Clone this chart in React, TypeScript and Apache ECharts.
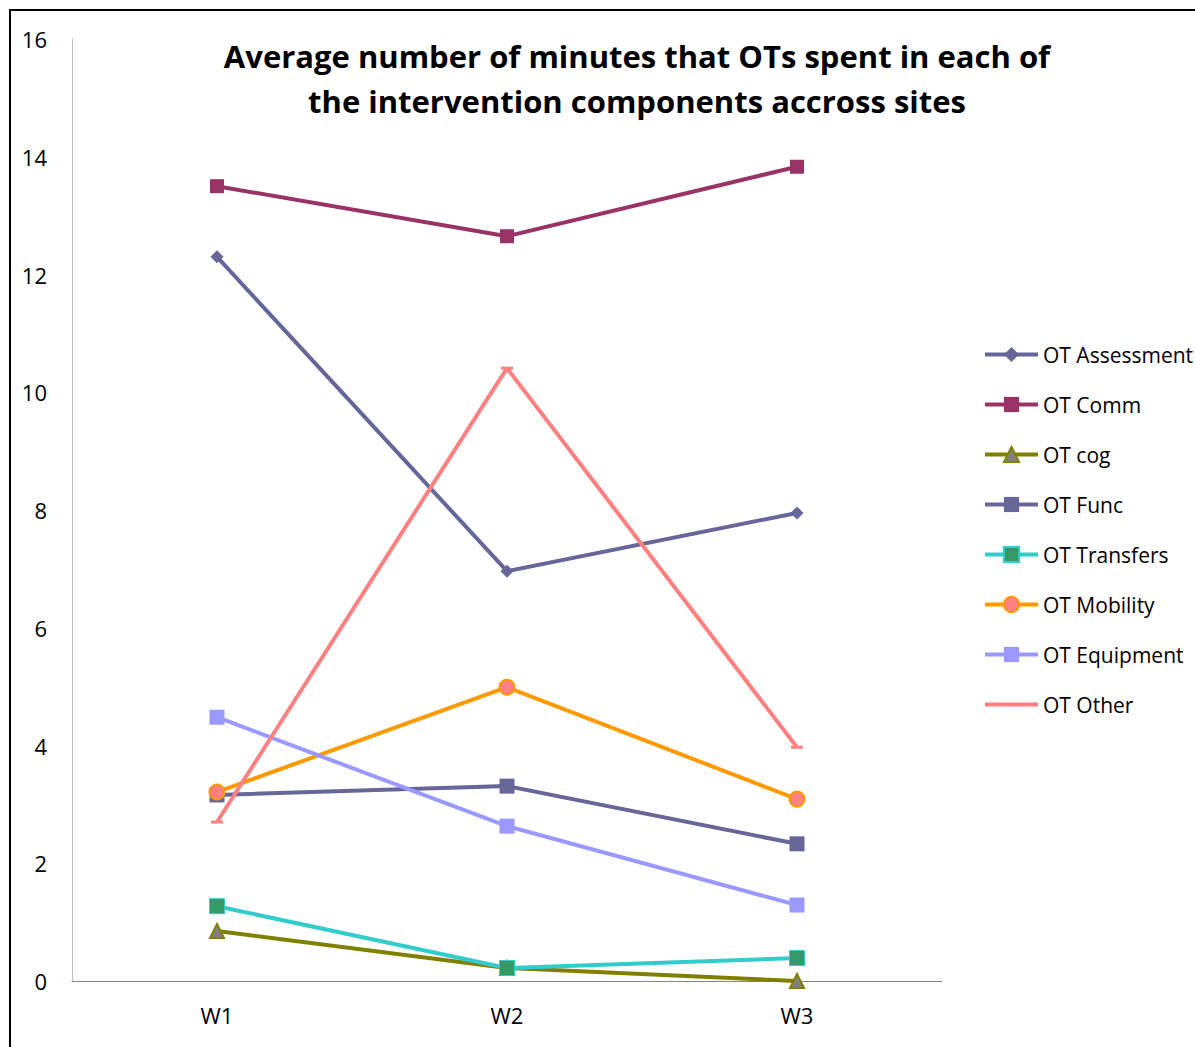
import React, { useEffect, useRef } from "react";
import * as echarts from "echarts";

const categories = ["W1", "W2", "W3"];
const assessment = [12.3, 6.96, 7.95];
const comm = [13.5, 12.65, 13.83];
const cog = [0.85, 0.22, 0];
const func = [3.16, 3.31, 2.33];
const transfers = [1.27, 0.22, 0.39];
const mobility = [3.21, 4.99, 3.09];
const equipment = [4.48, 2.63, 1.29];
const other = [2.7, 10.41, 3.97];
const seriesNames = [
  "OT Assessment",
  "OT Comm",
  "OT cog",
  "OT Func",
  "OT Transfers",
  "OT Mobility",
  "OT Equipment",
  "OT Other",
];
const lineColors = ["#666699", "#993366", "#808000", "#666699", "#33CCCC", "#FF9900", "#9999FF", "#FF8080"];

const FONT = "Open Sans";

export default function App() {
  const ref = useRef<HTMLDivElement>(null);
  useEffect(() => {
    document.body.style.margin = "0";
    const chart = echarts.init(ref.current!, null, { renderer: "svg" });
    const mk = (i: number, data: number[], symbol: string, size: any, item: any) => ({
      name: seriesNames[i],
      type: "line",
      data,
      symbol,
      symbolSize: size,
      showAllSymbol: true,
      lineStyle: { color: lineColors[i], width: 4 },
      itemStyle: item,
      emphasis: { disabled: true },
      z: 2,
    });
    chart.setOption({
      animation: false,
      backgroundColor: "#ffffff",
      title: {
        text: "Average number of minutes that OTs spent in each of\nthe intervention components accross sites",
        left: 632,
        textAlign: "center",
        top: 28,
        textStyle: { fontFamily: FONT, fontWeight: "bold", fontSize: 31, lineHeight: 45, color: "#000" },
      },
      graphic: [
        {
          type: "rect",
          shape: { x: 10, y: 10, width: 1300, height: 1200 },
          style: { fill: "none", stroke: "#000", lineWidth: 2 },
          silent: true,
        },
      ],
      legend: {
        orient: "vertical",
        left: 978,
        top: 339,
        itemWidth: 53,
        itemHeight: 19,
        itemGap: 29,
        lineStyle: { width: 4 },
        textStyle: { fontFamily: FONT, fontSize: 21, lineHeight: 20, color: "#000" },
        data: seriesNames.map((n, i) =>
          n === "OT Other"
            ? { name: n, itemStyle: { opacity: 0 }, lineStyle: { width: 4, color: lineColors[i] } }
            : { name: n, lineStyle: { width: 4, color: lineColors[i] } }
        ),
      },
      grid: { left: 72, right: 253, top: 39, bottom: 66, containLabel: false },
      xAxis: {
        type: "category",
        data: categories,
        boundaryGap: true,
        axisLine: { lineStyle: { color: "#868686", width: 1 } },
        axisTick: { show: false },
        axisLabel: { fontFamily: FONT, fontSize: 22, color: "#000", margin: 23 },
      },
      yAxis: {
        type: "value",
        min: 0,
        max: 16,
        interval: 2,
        splitLine: { show: false },
        axisLine: { show: true, lineStyle: { color: "#BFBFBF", width: 1 } },
        axisTick: { show: false },
        axisLabel: { fontFamily: FONT, fontSize: 22, color: "#000", margin: 25 },
      },
      series: [
        mk(0, assessment, "diamond", 13, { color: "#666699" }),
        mk(1, comm, "rect", 14, { color: "#993366" }),
        mk(2, cog, "triangle", 14, { color: "#808080", borderColor: "#808000", borderWidth: 2 }),
        mk(3, func, "rect", 15, { color: "#666699" }),
        mk(4, transfers, "rect", 15, { color: "#339966", borderColor: "#33CCCC", borderWidth: 1 }),
        mk(5, mobility, "circle", 15, { color: "#FF8080", borderColor: "#FF9900", borderWidth: 2 }),
        mk(6, equipment, "rect", 15, { color: "#9999FF" }),
        mk(7, other, "rect", [12, 3], { color: "#FF8080" }),
      ],
    });
    return () => chart.dispose();
  }, []);
  return <div ref={ref} style={{ width: 1195, height: 1047 }} />;
}
